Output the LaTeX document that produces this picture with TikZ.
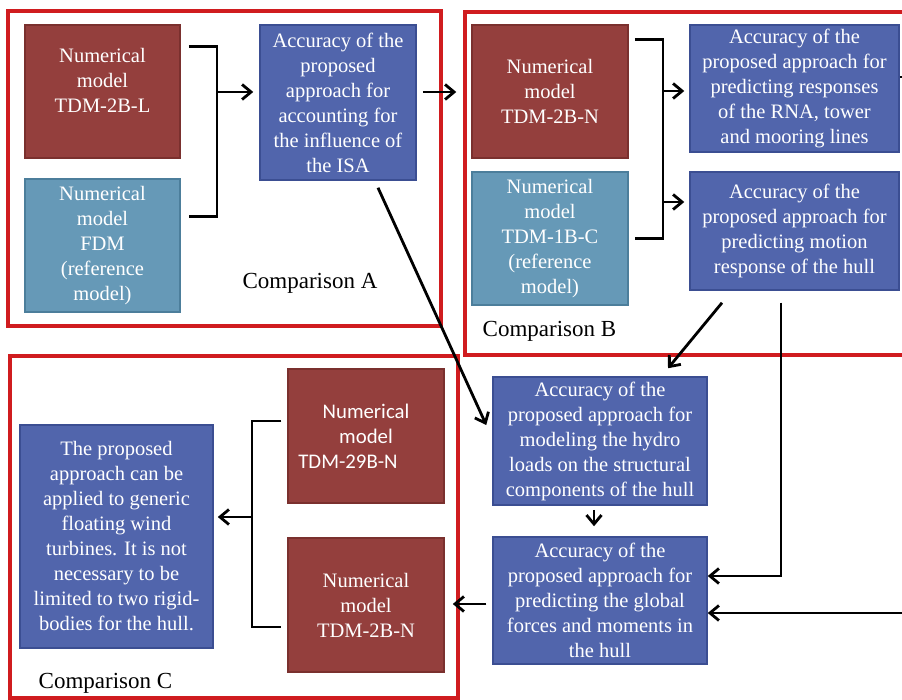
\documentclass[tikz,border=0pt]{standalone}
\usepackage{fontspec}
\setmainfont{Liberation Serif}
\newfontfamily\serifface{Liberation Serif}
\newfontfamily\calibrilike{Carlito}
\usetikzlibrary{arrows.meta}

\definecolor{modelred}{HTML}{943F3D}
\definecolor{modelredline}{HTML}{7A302E}
\definecolor{refteal}{HTML}{6699B7}
\definecolor{reftealline}{HTML}{4C7E9B}
\definecolor{accblue}{HTML}{5165AC}
\definecolor{accblueline}{HTML}{3B4E92}
\definecolor{framered}{HTML}{D01C1F}

\tikzset{
  box/.style={draw, line width=1.5pt, inner sep=0pt, align=center,
    text=white, font=\serifface\fontsize{20.5}{25}\selectfont},
  redbox/.style={box, fill=modelred, draw=modelredline},
  tealbox/.style={box, fill=refteal, draw=reftealline},
  bluebox/.style={box, fill=accblue, draw=accblueline},
  frame/.style={draw=framered, line width=4.5pt},
  caption/.style={font=\serifface\fontsize{23}{27}\selectfont, text=black},
  conn/.style={line width=2.8pt, black},
  arrow/.style={conn, -{Straight Barb[length=9pt, width=15pt, line width=2.8pt]}}
}

\begin{document}
\begin{tikzpicture}[x=1pt, y=-1pt]
\useasboundingbox (0,0) rectangle (902,700);
\clip (0,0) rectangle (902,700);
\fill[white] (0,0) rectangle (902,700);

% comparison frames
\draw[frame] (8,11) rectangle (441,326);
\draw[frame] (465,12) rectangle (915,355);
\draw[frame] (10,356) rectangle (458,698);

% comparison A
\node[redbox, minimum width=155, minimum height=133] (a1) at (102.5,91.5) {};
\node[text=white, align=center, font=\serifface\fontsize{20.5}{25}\selectfont] (a1t) at (102.5,80) {Numerical\\model\\TDM-2B-L};
\node[tealbox, minimum width=155, minimum height=133] (a2) at (102.5,245.5)
  {Numerical\\model\\FDM\\(reference\\model)};
\node[bluebox, minimum width=156, minimum height=155] (a3) at (338,102.5)
  {Accuracy of the\\proposed\\approach for\\accounting for\\the influence of\\the ISA};
\node[caption] (capa) at (310,283) {Comparison A};

% comparison B
\node[redbox, minimum width=156, minimum height=133] (b1) at (550,91.5)
  {Numerical\\model\\TDM-2B-N};
\node[tealbox, minimum width=156, minimum height=133] (b2) at (550,238.5)
  {Numerical\\model\\TDM-1B-C\\(reference\\model)};
\node[bluebox, minimum width=209, minimum height=127] (b3) at (794.5,88.5)
  {Accuracy of the\\proposed approach for\\predicting responses\\of the RNA, tower\\and mooring lines};
\node[bluebox, minimum width=209, minimum height=118] (b4) at (794.5,231)
  {Accuracy of the\\proposed approach for\\predicting motion\\response of the hull};
\node[caption] (capb) at (549.5,331) {Comparison B};

% hull load assessment
\node[bluebox, minimum width=214, minimum height=128] (d1) at (600,441)
  {Accuracy of the\\proposed approach for\\modeling the hydro\\loads on the structural\\components of the hull};
\node[bluebox, minimum width=214, minimum height=127] (d2) at (600,600.5)
  {Accuracy of the\\proposed approach for\\predicting the global\\forces and moments in\\the hull};

% comparison C
\node[bluebox, minimum width=193, minimum height=223] (c1) at (116.5,536.5)
  {The proposed\\approach can be\\applied to generic\\floating wind\\turbines. It is not\\necessary to be\\limited to two rigid-\\bodies for the hull.};
\node[redbox, minimum width=156, minimum height=134, font=\calibrilike\fontsize{20.8}{25}\selectfont] (c2) at (366,436)
  {Numerical\\model\\TDM-29B-N\hspace*{36pt}};
\node[redbox, minimum width=156, minimum height=134] (c3) at (366,605)
  {Numerical\\model\\TDM-2B-N};
\node[caption] (capc) at (105.5,683) {Comparison C};

% junction points of the brackets and lines leaving the page
\coordinate (ja) at (217,92);
\coordinate (jb1) at (663,91);
\coordinate (jb2) at (663,202);
\coordinate (jc) at (252,517);
\coordinate (rt) at (902,77);
\coordinate (rb) at (902,613);

% bracket A
\draw[conn] ([shift={(8,22)}]a1.north east) -| (ja) |- ([shift={(8,-96)}]a2.south east);
\draw[arrow] (ja) -- ([xshift=-6pt]ja -| a3.west);
\draw[arrow] ([xshift=6pt]ja -| a3.east) -- ([xshift=-15pt]ja -| b1.west);
\draw[arrow] ([shift={(40,7)}]a3.south) -- ([shift={(-6,-16)}]d1.west);

% bracket B
\draw[conn] ([shift={(6,15)}]b1.north east) -| (jb1) |- ([shift={(6,-67)}]b2.south east);
\draw[arrow] (jb1) -- ([xshift=-5pt]jb1 -| b3.west);
\draw[arrow] (jb2) -- ([xshift=-5pt]jb2 -| b4.west);
\draw[conn] (rt -| b3.east) -- (rt);

% lines towards the hull load boxes
\draw[arrow] ([shift={(-72.5,12)}]b4.south) -- ([shift={(68,-8)}]d1.north);
\draw[arrow] ([shift={(-13.5,12)}]b4.south) |- ([shift={(0,-24.5)}]d2.east);
\draw[arrow] (rb) -- (rb -| d2.east);
\draw[arrow] ([shift={(-6,4)}]d1.south) -- ([shift={(-6,-10)}]d2.north);
\draw[arrow] ([shift={(-6,3.5)}]d2.west) -- ([shift={(8,-1)}]c3.east);

% bracket C
\draw[conn] ([shift={(-6,-15)}]c2.west) -| (jc) |- ([shift={(-6,22)}]c3.west);
\draw[arrow] (jc) -- ([xshift=4pt]jc -| c1.east);
\end{tikzpicture}
\end{document}
